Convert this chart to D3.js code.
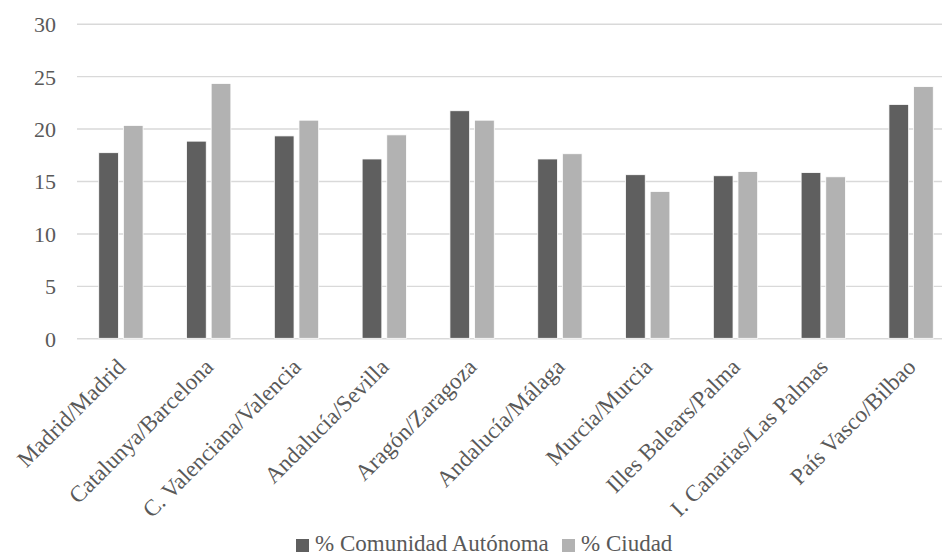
<!DOCTYPE html>
<html>
<head>
<meta charset="utf-8">
<script src="https://cdn.jsdelivr.net/npm/d3@7"></script>
<style>
  html, body { margin: 0; padding: 0; background: #fff; }
  svg { display: block; font-family: "Liberation Serif", "Times New Roman", Times, serif; }
  text { font-family: "Liberation Serif", "Times New Roman", Times, serif; fill: #595959; }
</style>
</head>
<body>
<svg id="chart" width="942" height="556"></svg>
<script>
// Regions / cities
const categories = [
  "Madrid/Madrid",
  "Catalunya/Barcelona",
  "C. Valenciana/Valencia",
  "Andalucía/Sevilla",
  "Aragón/Zaragoza",
  "Andalucía/Málaga",
  "Murcia/Murcia",
  "Illes Balears/Palma",
  "I. Canarias/Las Palmas",
  "País Vasco/Bilbao"
];
const seriesNames = ["% Comunidad Autónoma", "% Ciudad"];
const comunidadValues = [17.7, 18.8, 19.3, 17.1, 21.7, 17.1, 15.6, 15.5, 15.8, 22.3];
const ciudadValues    = [20.3, 24.3, 20.8, 19.4, 20.8, 17.6, 14.0, 15.9, 15.4, 24.0];
const yTicks = [0, 5, 10, 15, 20, 25, 30];
const colors = ["#5f5f5f", "#b2b2b2"];

const FONT = "'Liberation Serif', 'Times New Roman', Times, serif";
const seriesValues = [comunidadValues, ciudadValues];
const rows = categories.map((c, i) => ({
  category: c,
  values: seriesNames.map((s, k) => ({ series: s, value: seriesValues[k][i] }))
}));

const svg = d3.select("#chart");
const plot = { left: 77, right: 955, top: 23.7, bottom: 338.3 };

const y = d3.scaleLinear().domain([0, 30]).range([plot.bottom, plot.top]);

const x0 = d3.scaleBand()
  .domain(categories)
  .range([plot.left, plot.right])
  .paddingInner(0.495)
  .paddingOuter(0.2475);

const x1 = d3.scaleBand()
  .domain(seriesNames)
  .range([0, x0.bandwidth()])
  .paddingInner(0.2);

const color = d3.scaleOrdinal().domain(seriesNames).range(colors);

// Horizontal gridlines and value labels
const yAxis = d3.axisLeft(y).tickValues(yTicks).tickSize(-(plot.right - plot.left)).tickPadding(21);
const gy = svg.append("g").attr("transform", `translate(${plot.left},0)`).call(yAxis)
  .attr("font-family", FONT);
gy.select(".domain").remove();
gy.selectAll(".tick line").attr("stroke", "#d9d9d9").attr("stroke-width", 1.4);
gy.selectAll(".tick text")
  .attr("fill", "#595959")
  .attr("dy", "0.36em")
  .style("font-size", "22px")
  .style("font-family", FONT);

// Bars
const groups = svg.append("g").selectAll("g")
  .data(rows)
  .join("g")
  .attr("transform", d => `translate(${x0(d.category)},0)`);

groups.selectAll("rect")
  .data(d => d.values)
  .join("rect")
  .attr("x", d => x1(d.series))
  .attr("y", d => y(d.value))
  .attr("width", x1.bandwidth())
  .attr("height", d => y(0) - y(d.value))
  .attr("fill", d => color(d.series))
  .attr("stroke", "#ffffff")
  .attr("stroke-width", 0.8);

// Rotated category labels
const xAxis = d3.axisBottom(x0).tickSize(0).tickPadding(0);
const gx = svg.append("g").attr("transform", `translate(0,${plot.bottom})`).call(xAxis)
  .attr("font-family", FONT);
gx.select(".domain").remove();
gx.selectAll(".tick text")
  .attr("fill", "#595959")
  .style("font-size", "23px")
  .style("font-family", FONT)
  .attr("text-anchor", "end")
  .attr("dy", null)
  .attr("y", 0)
  .attr("transform", "translate(6,30) rotate(-45)");

// Legend
const legend = svg.append("g");
const legendItems = [
  { name: seriesNames[0], x: 296 },
  { name: seriesNames[1], x: 562 }
];
legendItems.forEach(item => {
  const g = legend.append("g").attr("transform", `translate(${item.x},0)`);
  g.append("rect")
    .attr("x", 0).attr("y", 539)
    .attr("width", 13).attr("height", 13)
    .attr("fill", color(item.name));
  g.append("text")
    .attr("x", 19).attr("y", 551)
    .style("font-size", "23px")
    .style("font-family", FONT)
    .text(item.name);
});
</script>
</body>
</html>
